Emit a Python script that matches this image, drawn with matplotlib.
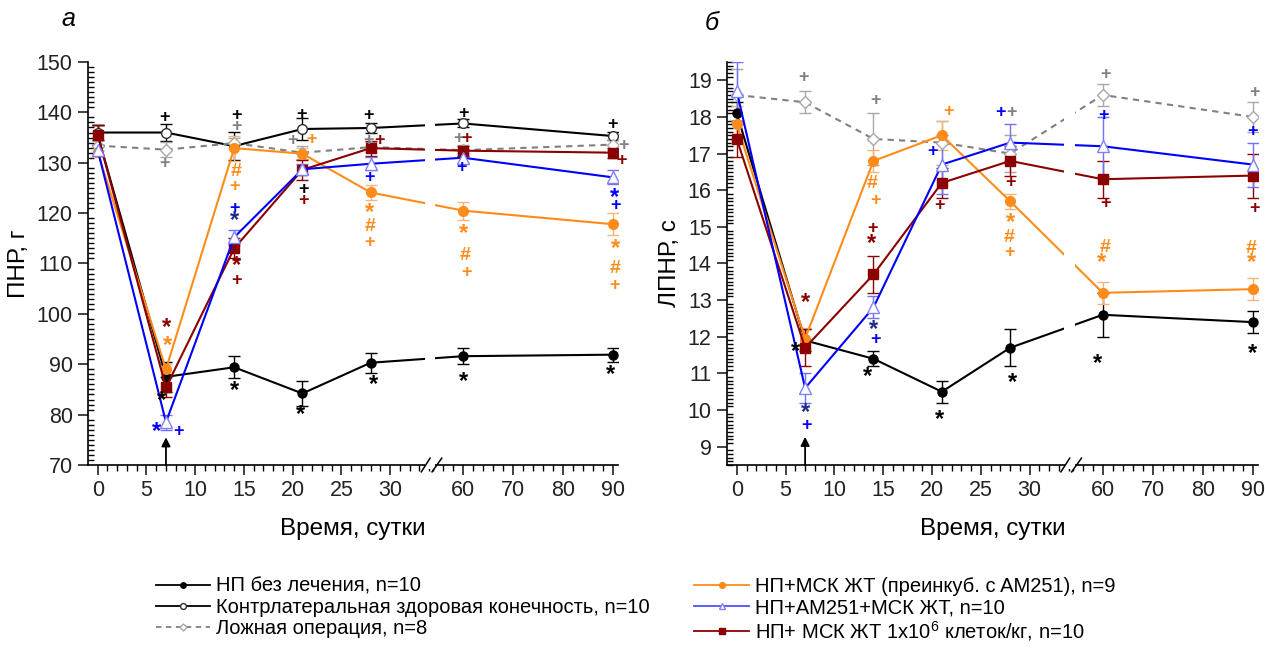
import numpy as np
import matplotlib
matplotlib.use('Agg')
from matplotlib import pyplot as plt
from matplotlib.lines import Line2D
from matplotlib.ticker import FixedLocator, MultipleLocator

plt.rcParams['font.family'] = ['Liberation Sans', 'DejaVu Sans']
plt.rcParams['mathtext.fontset'] = 'custom'
plt.rcParams['mathtext.rm'] = 'Liberation Sans'

days = [0, 7, 14, 21, 28, 60, 90]

names = ['НП без лечения, n=10',
         'Контрлатеральная здоровая конечность, n=10',
         'Ложная операция, n=8',
         'НП+МСК ЖТ (преинкуб. с AM251), n=9',
         'НП+AM251+МСК ЖТ, n=10',
         'НП+ МСК ЖТ 1x10$^6$ клеток/кг, n=10']

# panel a: ПНР, г
a_np = [135.5, 87.5, 89.4, 84.2, 90.3, 91.6, 91.9]
a_np_err = [2.0, 3.0, 2.2, 2.5, 2.0, 1.6, 1.4]
a_contra = [136.0, 136.0, 133.3, 136.7, 136.9, 137.8, 135.3]
a_contra_err = [1.5, 1.6, 2.8, 2.2, 1.0, 0.8, 0.8]
a_sham = [133.4, 132.6, 133.9, 132.0, 133.1, 132.5, 133.6]
a_sham_err = [1.0, 1.5, 1.0, 1.3, 1.0, 1.0, 1.0]
a_pre = [132.1, 89.0, 132.9, 131.8, 124.1, 120.5, 117.8]
a_pre_err = [1.0, 1.0, 2.5, 1.2, 1.5, 1.8, 2.2]
a_am = [132.5, 78.5, 115.2, 128.7, 129.8, 131.0, 127.1]
a_am_err = [1.0, 1.5, 1.5, 1.0, 1.3, 1.0, 1.4]
a_msc = [135.5, 85.4, 113.0, 128.6, 132.9, 132.4, 132.0]
a_msc_err = [2.0, 2.0, 2.0, 2.0, 1.5, 1.0, 1.0]

# panel б: ЛПНР, с
b_np = [18.1, 11.9, 11.4, 10.5, 11.7, 12.6, 12.4]
b_np_err = [0.3, 0.3, 0.2, 0.3, 0.5, 0.6, 0.3]
b_sham = [18.6, 18.4, 17.4, 17.3, 17.0, 18.6, 18.0]
b_sham_err = [0.7, 0.3, 0.7, 0.6, 0.5, 0.3, 0.4]
b_pre = [17.8, 11.95, 16.8, 17.5, 15.7, 13.2, 13.3]
b_pre_err = [0.5, 0.3, 0.3, 0.4, 0.2, 0.3, 0.3]
b_am = [18.7, 10.6, 12.8, 16.7, 17.3, 17.2, 16.7]
b_am_err = [0.8, 0.4, 0.3, 0.8, 0.5, 0.8, 0.6]
b_msc = [17.4, 11.7, 13.7, 16.2, 16.8, 16.3, 16.4]
b_msc_err = [0.5, 0.5, 0.5, 0.4, 0.4, 0.5, 0.6]

BLACK = '#000000'
GRAY = '#808080'
ORANGE = '#ff8c1a'
BLUE = '#0000ff'
RED = '#8b0000'
NAVY = '#1f2a8a'

# significance marks: (day, value, symbol, colour)
a_marks = [
    (6.9, 139.0, '+', BLACK), (14.2, 139.3, '+', BLACK), (14.2, 137.1, '+', GRAY),
    (6.9, 129.8, '+', GRAY), (20.9, 139.6, '+', BLACK), (20.0, 134.5, '+', GRAY),
    (21.9, 134.6, '+', ORANGE), (27.8, 139.3, '+', BLACK), (27.8, 134.5, '+', GRAY),
    (28.9, 134.5, '+', RED), (14.2, 128.2, '#', ORANGE), (14.0, 125.2, '+', ORANGE),
    (14.0, 121.0, '+', BLUE), (14.0, 118.5, '*', NAVY), (14.2, 109.6, '*', RED),
    (14.2, 106.6, '+', RED), (21.1, 124.6, '+', BLACK), (21.1, 122.6, '+', RED),
    (27.9, 127.0, '+', BLUE), (27.9, 120.2, '*', ORANGE), (27.9, 117.3, '#', ORANGE),
    (27.9, 114.2, '+', ORANGE), (7.1, 97.3, '*', RED), (7.2, 93.8, '*', ORANGE),
    (6.5, 82.8, '*', BLACK), (6.0, 76.7, '*', BLUE), (8.3, 76.7, '+', BLUE),
    (14.0, 84.7, '*', BLACK), (20.8, 80.0, '*', BLACK), (28.3, 85.9, '*', BLACK),
    (60, 139.7, '+', BLACK), (59.1, 134.9, '+', GRAY), (60.7, 134.9, '+', RED),
    (59.7, 129.1, '+', BLUE), (60, 115.9, '*', ORANGE), (60.4, 111.5, '#', ORANGE),
    (60.6, 108.2, '+', ORANGE), (60, 86.5, '*', BLACK), (89.9, 137.5, '+', BLACK),
    (92.1, 133.5, '+', GRAY), (91.7, 130.5, '+', RED), (90.2, 123.1, '*', BLUE),
    (90.4, 121.5, '+', BLUE), (90.4, 113.0, '*', ORANGE), (90.4, 109.0, '#', ORANGE),
    (90.2, 105.6, '+', ORANGE), (89.4, 88.0, '*', BLACK),
]
b_marks = [
    (6.8, 19.07, '+', GRAY), (14.2, 18.44, '+', GRAY), (21.7, 18.16, '+', ORANGE),
    (27.0, 18.12, '+', BLUE), (28.1, 18.12, '+', GRAY), (20.0, 17.05, '+', BLUE),
    (13.9, 16.18, '#', ORANGE), (14.2, 15.73, '+', ORANGE), (13.9, 14.96, '+', RED),
    (13.8, 14.55, '*', RED), (20.8, 15.59, '+', RED), (28.0, 16.2, '+', RED),
    (28.0, 15.11, '*', ORANGE), (27.9, 14.71, '#', ORANGE), (27.9, 14.3, '+', ORANGE),
    (7.0, 12.93, '*', RED), (6.0, 11.6, '*', BLACK), (7.0, 9.92, '*', NAVY),
    (7.1, 9.58, '+', BLUE), (14.0, 12.19, '*', NAVY), (14.2, 11.92, '+', BLUE),
    (13.4, 10.92, '*', BLACK), (20.8, 9.75, '*', BLACK), (28.2, 10.74, '*', BLACK),
    (60.5, 19.16, '+', GRAY), (90.4, 18.66, '+', GRAY), (60.1, 18.03, '+', BLUE),
    (89.9, 17.59, '+', BLUE), (60.5, 15.64, '+', RED), (90.3, 15.5, '+', RED),
    (60.5, 14.44, '#', ORANGE), (59.8, 14.02, '*', ORANGE), (89.7, 14.41, '#', ORANGE),
    (89.7, 14.02, '*', ORANGE), (58.9, 11.28, '*', BLACK), (89.9, 11.55, '*', BLACK),
]

# broken time axis: 0..34 then 53..91 compressed
B1, B2, K = 34.1, 53.4, 5 / 9.75


def fwd(d):
    d = np.asarray(d, float)
    return np.where(d <= B1, d, np.where(d >= B2, B1 + (d - B2) * K, B1))


def inv(u):
    u = np.asarray(u, float)
    return np.where(u <= B1, u, B2 + (u - B1) / K)


styles = {
    'np': dict(color=BLACK, marker='o', mfc=BLACK, mec=BLACK, ms=6.5, ls='-', ecolor=BLACK),
    'contra': dict(color=BLACK, marker='o', mfc='white', mec='#303030', ms=7, ls='-', ecolor=BLACK),
    'sham': dict(color=GRAY, marker='D', mfc='white', mec='#a8a8a8', ms=6, ls=(0, (3, 2.5)), ecolor='#a8a8a8'),
    'pre': dict(color=ORANGE, marker='o', mfc=ORANGE, mec=ORANGE, ms=7, ls='-', ecolor='#f5b478'),
    'am': dict(color=BLUE, marker='^', mfc='white', mec='#8080ff', ms=8, ls='-', ecolor='#7070ff'),
    'msc': dict(color=RED, marker='s', mfc=RED, mec=RED, ms=6.5, ls='-', ecolor=RED),
}

mark_size = {'*': 17, '#': 14, '+': 13}


def draw(ax, series, marks, ylim, ymajor, yminor, ylabel, letter, letter_pos, arrow_top):
    ax.set_xscale('function', functions=(fwd, inv))
    for key, vals, err in series:
        st = dict(styles[key])
        ec = st.pop('ecolor')
        ax.errorbar(days, vals, yerr=err, lw=1.5, elinewidth=1.0, capsize=4,
                    capthick=1.0, ecolor=ec, **st)
    for d, v, s, c in marks:
        ax.text(d, v, s, color=c, ha='center', va='center', fontsize=mark_size[s],
                fontweight='bold', zorder=5)
    ax.annotate('', xy=(7, arrow_top), xytext=(7, ylim[0]),
                arrowprops=dict(arrowstyle='-|>', color='k', lw=1.3, mutation_scale=13,
                                shrinkA=0, shrinkB=0))
    ax.set_xlim(-1, 91)
    ax.set_ylim(*ylim)
    ax.spines['top'].set_visible(False)
    ax.spines['right'].set_visible(False)
    ax.spines['left'].set_linewidth(1.2)
    ax.spines['bottom'].set_linewidth(1.2)
    ax.xaxis.set_major_locator(FixedLocator([0, 5, 10, 15, 20, 25, 30, 60, 70, 80, 90]))
    minors = [d for d in range(1, 35) if d % 5] + [d for d in range(54, 92, 2) if d % 10]
    ax.xaxis.set_minor_locator(FixedLocator(minors))
    ax.yaxis.set_major_locator(MultipleLocator(ymajor))
    ax.yaxis.set_minor_locator(MultipleLocator(yminor))
    ax.tick_params(axis='both', which='major', direction='out', length=7, width=1.2,
                   labelsize=15.5, colors='#222222', pad=4)
    ax.tick_params(axis='x', which='minor', direction='out', length=4, width=1.0)
    ax.tick_params(axis='y', which='minor', direction='in', length=4, width=1.0)
    ax.set_xlabel('Время, сутки', fontsize=17.5, labelpad=12)
    ax.set_ylabel(ylabel, fontsize=17.5, labelpad=5)
    # gap in the lines at the axis break
    ax.axvspan(B1 - 0.55, B2 + 0.55 / K, color='white', zorder=2.2, lw=0)
    # break marks on the x axis
    tr = ax.get_xaxis_transform()
    ax.fill_between([B1 - 0.5, B2 + 0.5 / K], -0.01, 0.01, color='white', transform=tr,
                    zorder=3, clip_on=False, lw=0)
    for x0, x1 in ((B1 - 0.9, B1 + 0.1), (B2 + 0.2 / K, B2 + 1.2 / K)):
        ax.plot([x0, x1], [-0.017, 0.017], transform=tr, color='k', lw=1.1,
                clip_on=False, zorder=4)
    ax.text(letter_pos[0], letter_pos[1], letter, transform=ax.transAxes, fontsize=18,
            style='italic', ha='center', va='center')


fig = plt.figure(figsize=(12.65, 6.54), dpi=100)
ax_a = fig.add_axes([88 / 1265, 189 / 654, 530 / 1265, 403 / 654])
ax_b = fig.add_axes([727 / 1265, 189 / 654, 531 / 1265, 403 / 654])

draw(ax_a, [('contra', a_contra, a_contra_err), ('sham', a_sham, a_sham_err),
            ('np', a_np, a_np_err), ('pre', a_pre, a_pre_err),
            ('msc', a_msc, a_msc_err), ('am', a_am, a_am_err)],
     a_marks, (70, 150), 10, 1, 'ПНР, г', 'а', (-20 / 530, 1.107), 75.5)
draw(ax_b, [('sham', b_sham, b_sham_err), ('np', b_np, b_np_err),
            ('pre', b_pre, b_pre_err), ('msc', b_msc, b_msc_err),
            ('am', b_am, b_am_err)],
     b_marks, (8.5, 19.5), 1, 0.1, 'ЛПНР, с', 'б', (-15 / 531, 1.097), 9.27)

handles = []
for key in ['np', 'contra', 'sham', 'pre', 'am', 'msc']:
    st = dict(styles[key])
    st.pop('ecolor')
    st['ms'] = st['ms'] * 0.6
    if key == 'am':
        st['color'] = '#5050ff'
    handles.append(Line2D([], [], lw=1.3, **st))
fig.legend(handles, names, loc='upper left', bbox_to_anchor=(156 / 1265, 1 - 577 / 654),
           ncol=2, frameon=False, fontsize=14.5, handlelength=2.7, handletextpad=0.3,
           labelspacing=0.1, columnspacing=2.2, borderpad=0, borderaxespad=0)

fig.savefig('out.png', dpi=100)
